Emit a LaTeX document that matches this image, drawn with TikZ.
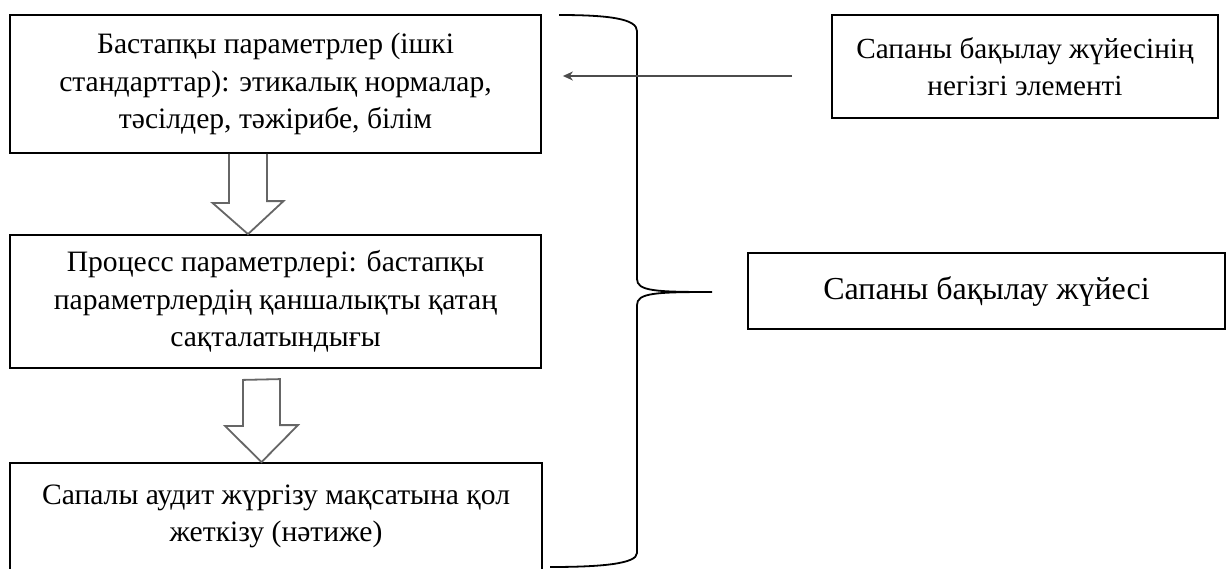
\documentclass[tikz,border=0pt]{standalone}
\usepackage{fontspec}
\setmainfont{Liberation Serif}
\usetikzlibrary{calc,shadows,arrows.meta}
\begin{document}
\begin{tikzpicture}[x=0.5pt,y=-0.5pt,
	box/.style={draw,line width=0.9pt,fill=white,align=center,inner sep=0pt,
		font=\fontsize{14.8}{18.7}\selectfont,
		general shadow={fill=black!70,shadow xshift=-0.7pt,shadow yshift=-0.7pt}},
	hollow/.style={draw=black!60,line width=0.9pt,line join=miter}]
	\useasboundingbox (0,0) rectangle (1227,568);
	% left column
	\node[box,minimum width=265.5pt,minimum height=69pt] (ishki) at (275.5,84)
		{Бастапқы параметрлер (ішкі\\ стандарттар): этикалық нормалар,\\ тәсілдер, тәжірибе, білім};
	\node[box,minimum width=265.5pt,minimum height=66.5pt] (proc) at (275.5,301.5)
		{Процесс параметрлері: бастапқы\\ параметрлердің қаншалықты қатаң\\ сақталатындығы};
	\node[box,minimum width=266pt,minimum height=54.5pt] (natizhe) at (276,517.5)
		{Сапалы аудит жүргізу мақсатына қол\\ жеткізу (нәтиже)\\[-14.5pt]};
	% right column
	\node[box,minimum width=193pt,minimum height=51.5pt,font=\fontsize{14.6}{18.7}\selectfont] (element) at (1025,66.5)
		{Сапаны бақылау жүйесінің\\ негізгі элементі};
	\node[box,minimum width=238.5pt,minimum height=38pt,font=\fontsize{16}{19}\selectfont] (zhuie) at (986.5,291)
		{Сапаны бақылау жүйесі};
	% hollow arrows
	\coordinate (a1) at ($(ishki.south)+(-27.5,0)$);
	\draw[hollow] ($(a1)+(-19,0)$) -- ++(0,49) -- ++(-16.5,0) -- (a1 |- proc.north)
		-- ++(35.5,-33) -- ++(-16.5,0) -- ($(a1)+(19,0)$);
	\coordinate (a2) at ($(proc.south)+(-14,11)$);
	\draw[hollow] ($(a2)+(-18.5,0)$) -- ++(0,46) -- ++(-18,0) -- (a2 |- natizhe.north)
		-- ++(36.5,-37) -- ++(-18,0) -- ++(0,-46) -- cycle;
	% brace
	\coordinate (br) at (637,292);
	\draw[line width=0.9pt] (559,15) .. controls (610,15) and (637,19) .. (637,31)
		-- (637,279) .. controls (637,291) and (655,292) .. (712,292)
		.. controls (655,292) and (637,293) .. (637,305)
		-- (637,553) .. controls (637,564) and (600,567) .. (550,567);
	% arrow to the first box
	\coordinate (e1) at ($(element.west)+(-39,9.5)$);
	\draw[draw=black!70,line width=1.1pt,-{Stealth[length=5pt,width=4.5pt]}]
		(e1) -- ($(e1 -| ishki.east)+(21,0)$);
\end{tikzpicture}
\end{document}
